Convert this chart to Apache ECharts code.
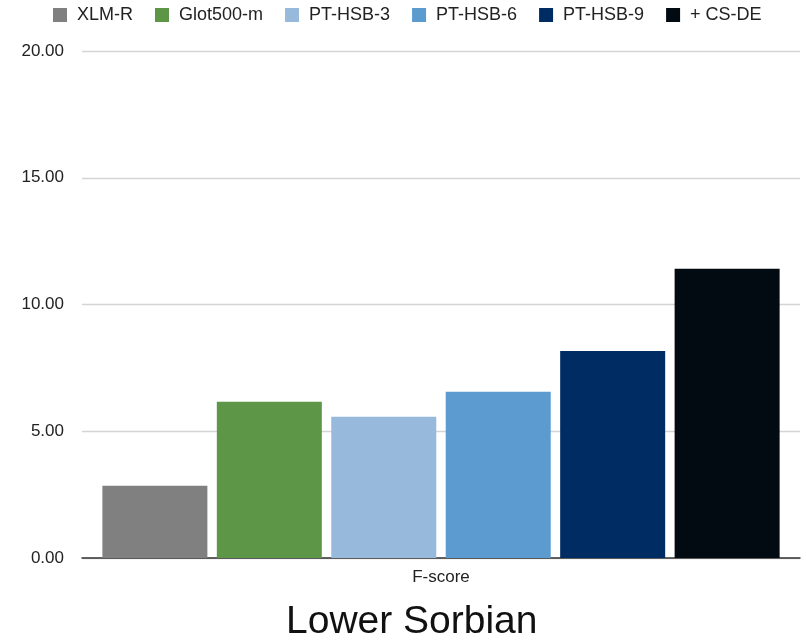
<!DOCTYPE html>
<html>
<head>
<meta charset="utf-8">
<script src="https://cdn.jsdelivr.net/npm/echarts@6/dist/echarts.min.js"></script>
<style>html,body{margin:0;padding:0;background:#fff;}#c{width:806px;height:643px;}</style>
</head>
<body>
<div id="c"></div>
<script>
const categories = ['F-score'];
const seriesNames = ['XLM-R', 'Glot500-m', 'PT-HSB-3', 'PT-HSB-6', 'PT-HSB-9', '+ CS-DE'];
const seriesValues = [2.85, 6.16, 5.57, 6.56, 8.17, 11.41];
const seriesColors = ['#7f807f', '#5e9648', '#97b9db', '#5b9bd0', '#002c64', '#020a12'];
const yTicks = [0, 5, 10, 15, 20];
const titleText = 'Lower Sorbian';

const font = '"Liberation Sans", Arial, Helvetica, sans-serif';
const chart = echarts.init(document.getElementById('c'), null, {renderer: 'canvas'});
chart.setOption({
  animation: false,
  backgroundColor: '#fff',
  textStyle: {fontFamily: font},
  title: {
    text: titleText,
    left: 286,
    top: 603,
    padding: 0,
    textStyle: {fontFamily: font, fontSize: 39, fontWeight: 'normal', color: '#111'}
  },
  legend: {
    data: seriesNames,
    top: 6,
    left: 53,
    padding: 0,
    itemWidth: 14,
    itemHeight: 14,
    itemGap: 22,
    icon: 'rect',
    textStyle: {fontFamily: font, fontSize: 18, color: '#222', padding: [0, 0, 0, 5]}
  },
  grid: {left: 82, right: 6, top: 51, bottom: 85, containLabel: false},
  xAxis: {
    type: 'category',
    data: categories,
    axisTick: {show: false},
    axisLine: {lineStyle: {color: '#333', width: 1.5}},
    axisLabel: {fontFamily: font, fontSize: 17, color: '#222', margin: 11}
  },
  yAxis: {
    type: 'value',
    min: yTicks[0],
    max: yTicks[yTicks.length - 1],
    interval: 5,
    axisLine: {show: false},
    axisTick: {show: false},
    splitLine: {lineStyle: {color: '#d4d4d4', width: 1.3}},
    axisLabel: {
      fontFamily: font, fontSize: 17, color: '#222', margin: 18,
      formatter: v => v.toFixed(2)
    }
  },
  series: seriesNames.map((name, i) => ({
    name: name,
    type: 'bar',
    data: [seriesValues[i]],
    barWidth: 105,
    barGap: '9%',
    itemStyle: {color: seriesColors[i]}
  }))
});
</script>
</body>
</html>
